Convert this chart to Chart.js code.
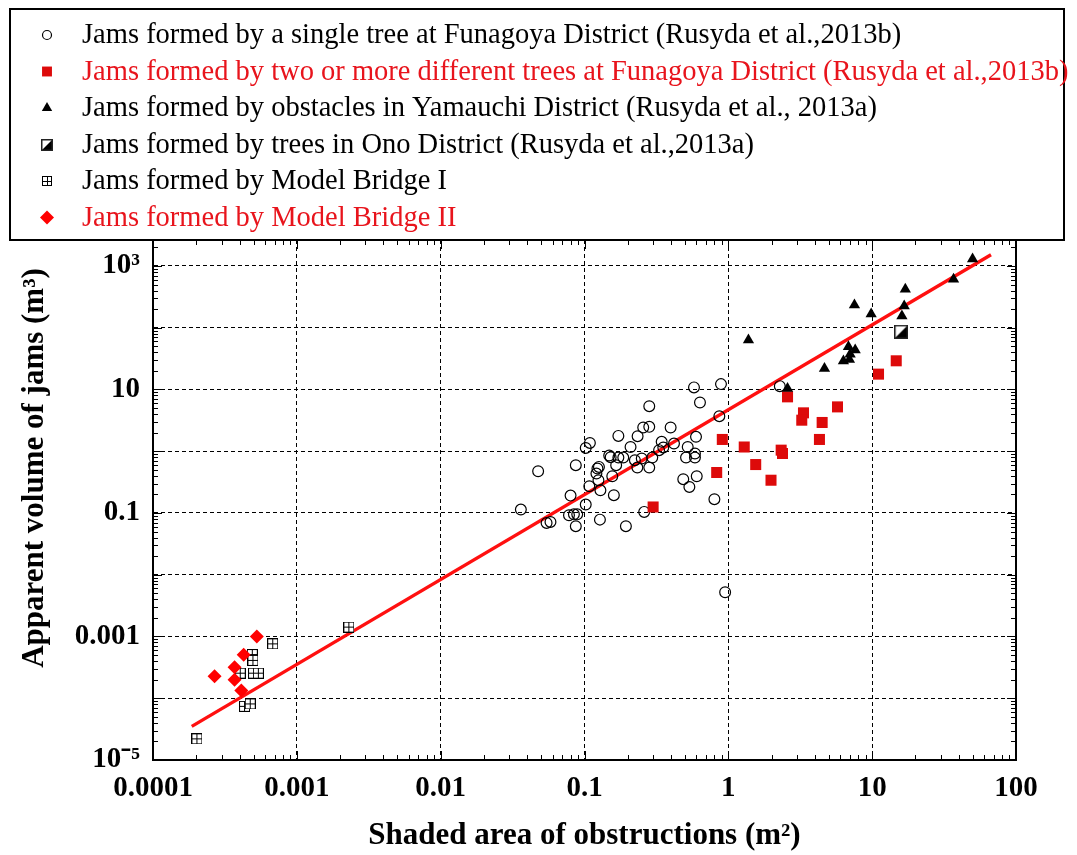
<!DOCTYPE html>
<html>
<head>
<meta charset="utf-8">
<script src="https://cdn.jsdelivr.net/npm/chart.js@4.4.0/dist/chart.umd.min.js"></script>
<style>
  html, body { margin: 0; padding: 0; background: #fff; }
  #wrap { width: 1077px; height: 855px; }
</style>
</head>
<body>
<div id="wrap"><canvas id="jamChart" width="1077" height="855"></canvas></div>
<script>
// --- data (log-log) ---
const xTickValues = [0.0001, 0.001, 0.01, 0.1, 1, 10, 100];
const xTickLabels = ['0.0001', '0.001', '0.01', '0.1', '1', '10', '100'];
const yTickValues = [1e-5, 1e-4, 1e-3, 1e-2, 1e-1, 1, 10, 100, 1000];
const yTickLabels = ['10\u207B\u2075', '', '0.001', '', '0.1', '', '10', '', '10\u00B3'];

// single tree, Funagoya
const singleTreeX = [0.0361, 0.0476, 0.0545, 0.058, 0.080, 0.078, 0.0844, 0.089, 0.087, 0.087,
  0.102, 0.102, 0.109, 0.108, 0.121, 0.123, 0.126, 0.125, 0.129, 0.128,
  0.160, 0.156, 0.166, 0.1485, 0.152, 0.172, 0.172, 0.186, 0.209, 0.224,
  0.233, 0.234, 0.25, 0.256, 0.282, 0.282, 0.282, 0.296, 0.26, 0.33,
  0.344, 0.353, 0.397, 0.419, 0.486, 0.536, 0.508, 0.522, 0.586, 0.586,
  0.603, 0.596, 0.577, 0.635, 0.889, 0.866, 0.80, 0.194, 2.28, 0.95];
const singleTreeY = [0.1135, 0.474, 0.0689, 0.0715, 0.191, 0.0918, 0.095, 0.095, 0.061, 0.593,
  0.137, 1.13, 1.36, 0.271, 0.435, 0.525, 0.557, 0.339, 0.233, 0.078,
  0.194, 0.393, 0.593, 0.851, 0.80, 1.77, 0.79, 0.79, 1.17, 0.715,
  0.544, 1.75, 0.762, 2.42, 2.48, 5.36, 0.544, 0.79, 0.104, 1.04,
  1.42, 1.15, 2.42, 1.33, 0.352, 0.264, 0.79, 1.17, 0.918, 0.79,
  0.393, 1.71, 10.8, 6.15, 12.2, 3.69, 0.167, 0.061, 11.3, 0.0052];

// two or more trees, Funagoya
const multiTreeX = [0.30, 0.83, 0.908, 1.29, 1.55, 1.98, 2.33, 2.38, 2.58, 3.33, 3.24, 4.30, 4.49, 5.74, 11.07, 14.7];
const multiTreeY = [0.125, 0.452, 1.55, 1.17, 0.608, 0.339, 1.04, 0.918, 7.59, 4.18, 3.18, 1.55, 2.92, 5.22, 17.7, 29.1];

// obstacles, Yamauchi
const yamauchiX = [1.38, 2.58, 4.66, 6.31, 6.84, 7.03, 7.62, 6.95, 7.53, 9.84, 17.0, 16.7, 16.1, 36.8, 49.9];
const yamauchiY = [63, 10.4, 21.9, 28.8, 49, 37.3, 43.4, 30.6, 232, 166, 418, 224, 154, 607, 1300];

// trees, Ono
const onoX = [15.9];
const onoY = [85.9];

// model bridges
const bridge1X = [2.02e-4, 4.33e-4, 4.74e-4, 4.04e-4, 5.0e-4, 5.4e-4, 4.9e-4, 4.95e-4, 6.8e-4, 2.3e-3];
const bridge1Y = [2.2e-5, 7.4e-5, 8.1e-5, 2.55e-4, 2.55e-4, 2.55e-4, 5.1e-4, 4.1e-4, 7.6e-4, 1.42e-3];
const bridge2X = [2.68e-4, 3.69e-4, 3.69e-4, 4.11e-4, 4.27e-4, 5.27e-4];
const bridge2Y = [2.26e-4, 3.19e-4, 2.0e-4, 1.34e-4, 5.07e-4, 1.0e-3];

// regression line end points
const fitX = [1.86e-4, 67];
const fitY = [3.5e-5, 1520];

const zip = (xs, ys) => xs.map((x, i) => ({ x: x, y: ys[i] }));

const SERIF = "'Liberation Serif', 'Times New Roman', serif";
const RED_TXT = '#e8141c';

// custom marker images
function gridSquare(size) {
    const c = document.createElement('canvas');
    c.width = size; c.height = size;
    const g = c.getContext('2d');
    g.fillStyle = '#fff';
    g.fillRect(0, 0, size, size);
    g.strokeStyle = '#000';
    g.lineWidth = 1;
    g.strokeRect(0.5, 0.5, size - 1, size - 1);
    const m = Math.floor(size / 2) + 0.5;
    g.beginPath();
    g.moveTo(m, 0); g.lineTo(m, size);
    g.moveTo(0, m); g.lineTo(size, m);
    g.stroke();
    return c;
}
function halfSquare(size) {
    const c = document.createElement('canvas');
    c.width = size; c.height = size;
    const g = c.getContext('2d');
    g.fillStyle = '#fff';
    g.fillRect(0, 0, size, size);
    g.fillStyle = '#000';
    g.beginPath();
    g.moveTo(size - 1, 1); g.lineTo(size - 1, size - 1); g.lineTo(1, size - 1);
    g.closePath();
    g.fill();
    g.strokeStyle = '#222';
    g.lineWidth = 1.5;
    g.strokeRect(0.75, 0.75, size - 1.5, size - 1.5);
    return c;
}

const gridMark = gridSquare(11);
const gridMarkSmall = gridSquare(10);
const onoMark = halfSquare(14);
const onoMarkSmall = halfSquare(12);

const datasets = [
    { label: 'Jams formed by a single tree at Funagoya District (Rusyda et al.,2013b)',
      data: zip(singleTreeX, singleTreeY), pointStyle: 'circle', pointRadius: 5.4,
      backgroundColor: 'rgba(0,0,0,0)', borderColor: '#000', borderWidth: 1.2,
      legendColor: '#000', legendRadius: 4.5, order: 6 },
    { label: 'Jams formed by two or more different trees at Funagoya District (Rusyda et al.,2013b)',
      data: zip(multiTreeX, multiTreeY), pointStyle: 'rect', pointRadius: 7.8,
      backgroundColor: '#dd0a0a', borderColor: '#dd0a0a', borderWidth: 0,
      legendColor: RED_TXT, legendRadius: 7, order: 5 },
    { label: 'Jams formed by obstacles in Yamauchi District (Rusyda et al., 2013a)',
      data: zip(yamauchiX, yamauchiY), pointStyle: 'triangle', pointRadius: 6.5,
      backgroundColor: '#000', borderColor: '#000', borderWidth: 0,
      legendColor: '#000', legendRadius: 6, order: 4 },
    { label: 'Jams formed by trees in Ono District (Rusyda et al.,2013a)',
      data: zip(onoX, onoY), pointStyle: onoMark, legendImage: onoMarkSmall,
      legendColor: '#000', order: 3 },
    { label: 'Jams formed by Model Bridge I',
      data: zip(bridge1X, bridge1Y), pointStyle: gridMark, legendImage: gridMarkSmall,
      legendColor: '#000', order: 2 },
    { label: 'Jams formed by Model Bridge II',
      data: zip(bridge2X, bridge2Y), pointStyle: 'rectRot', pointRadius: 7,
      backgroundColor: '#ff0000', borderColor: '#ff0000', borderWidth: 0,
      legendColor: RED_TXT, legendRadius: 7, order: 1 },
    { type: 'line', label: 'fit', data: zip(fitX, fitY), showLine: true,
      pointRadius: 0, borderColor: '#ff1010', borderWidth: 3.4, fill: false,
      skipLegend: true, order: 10 }
];

// frame, inward minor ticks, legend box and axis titles
const decorPlugin = {
    id: 'decor',
    beforeDatasetsDraw(chart) {
        const { ctx, chartArea: a, scales } = chart;
        ctx.save();
        ctx.strokeStyle = '#000';
        ctx.lineWidth = 1;
        ctx.beginPath();
        for (let d = -4; d <= 2; d++) {
            for (let k = 1; k <= 9; k++) {
                const v = k * Math.pow(10, d);
                if (v < scales.x.min || v > scales.x.max) continue;
                const px = Math.round(scales.x.getPixelForValue(v)) + 0.5;
                const len = k === 1 ? 9 : 5;
                ctx.moveTo(px, a.bottom); ctx.lineTo(px, a.bottom - len);
                ctx.moveTo(px, a.top); ctx.lineTo(px, a.top + len);
            }
        }
        for (let d = -5; d <= 3; d++) {
            for (let k = 1; k <= 9; k++) {
                const v = k * Math.pow(10, d);
                if (v < scales.y.min || v > scales.y.max) continue;
                const py = Math.round(scales.y.getPixelForValue(v)) + 0.5;
                const len = k === 1 ? 9 : 5;
                ctx.moveTo(a.left, py); ctx.lineTo(a.left + len, py);
                ctx.moveTo(a.right, py); ctx.lineTo(a.right - len, py);
            }
        }
        ctx.stroke();
        ctx.lineWidth = 2;
        ctx.strokeRect(a.left, a.top, a.right - a.left, a.bottom - a.top);
        ctx.restore();
    },
    afterDraw(chart) {
        const ctx = chart.ctx;
        ctx.save();
        // legend box
        ctx.fillStyle = '#fff';
        ctx.fillRect(10, 9, 1054, 231);
        ctx.strokeStyle = '#000';
        ctx.lineWidth = 2;
        ctx.strokeRect(10, 9, 1054, 231);
        let i = 0;
        chart.data.datasets.forEach(ds => {
            if (ds.skipLegend) return;
            const y = 35 + i * 36.5;
            const mx = 47;
            if (ds.legendImage) {
                ctx.drawImage(ds.legendImage, Math.round(mx - ds.legendImage.width / 2), Math.round(y - ds.legendImage.height / 2));
            } else {
                ctx.fillStyle = ds.backgroundColor;
                ctx.strokeStyle = ds.borderColor;
                ctx.lineWidth = ds.borderWidth || 1;
                Chart.helpers.drawPoint(ctx, { pointStyle: ds.pointStyle, radius: ds.legendRadius, borderWidth: ds.borderWidth, rotation: 0 }, mx, y);
            }
            ctx.fillStyle = ds.legendColor;
            ctx.font = '28.5px ' + SERIF;
            ctx.textAlign = 'left';
            ctx.textBaseline = 'middle';
            ctx.fillText(ds.label, 82, y + 1);
            i++;
        });
        // axis titles
        ctx.fillStyle = '#000';
        ctx.font = 'bold 31px ' + SERIF;
        ctx.textAlign = 'center';
        ctx.textBaseline = 'middle';
        ctx.fillText('Shaded area of obstructions (m\u00B2)', (chart.chartArea.left + chart.chartArea.right) / 2, 836);
        ctx.translate(35, 468);
        ctx.rotate(-Math.PI / 2);
        ctx.fillText('Apparent volume of jams (m\u00B3)', 0, 0);
        ctx.restore();
    }
};

const ctx = document.getElementById('jamChart').getContext('2d');
new Chart(ctx, {
    type: 'scatter',
    data: { datasets },
    options: {
        responsive: false,
        devicePixelRatio: 1,
        animation: false,
        events: [],
        layout: { padding: { top: 240, right: 61, left: 0, bottom: 0 } },
        plugins: { legend: { display: false }, tooltip: { enabled: false } },
        scales: {
            x: {
                type: 'logarithmic',
                min: 1e-4,
                max: 100,
                afterBuildTicks: s => { s.ticks = xTickValues.map(v => ({ value: v })); },
                afterFit: s => { s.height = 95; },
                ticks: {
                    autoSkip: false, maxRotation: 0, padding: 11, color: '#000',
                    font: { family: SERIF, size: 29, weight: 'bold' },
                    callback: (v, i) => xTickLabels[i]
                },
                grid: { color: '#000', lineWidth: 1, drawTicks: false },
                border: { display: true, color: '#000', width: 2, dash: [4, 3] }
            },
            y: {
                type: 'logarithmic',
                min: 1e-5,
                max: 2630,
                afterBuildTicks: s => { s.ticks = yTickValues.map(v => ({ value: v })); },
                afterFit: s => { s.width = 153; },
                ticks: {
                    autoSkip: false, padding: 13, color: '#000',
                    font: { family: SERIF, size: 29, weight: 'bold' },
                    callback: (v, i) => yTickLabels[i]
                },
                grid: { color: '#000', lineWidth: 1, drawTicks: false },
                border: { display: true, color: '#000', width: 2, dash: [4, 3] }
            }
        }
    },
    plugins: [decorPlugin]
});
</script>
</body>
</html>
